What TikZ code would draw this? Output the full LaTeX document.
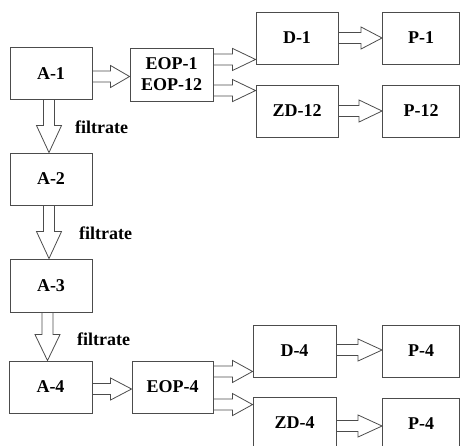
\documentclass[tikz,border=0pt]{standalone}
\usepackage{fontspec}
\setmainfont{Liberation Serif}
\usetikzlibrary{calc}
\tikzset{
  box/.style={draw=black!70, line width=0.9pt, inner sep=0pt, minimum width=82pt, minimum height=52pt,
    font=\fontsize{18}{21}\selectfont\bfseries, align=center},
  lbl/.style={font=\fontsize{18}{21}\selectfont\bfseries, inner sep=0pt, anchor=west},
  blk/.style={draw=black!70, line width=0.8pt, line join=miter}
}
\newcommand\harr[3][20]{\draw[blk] let \p1=(#2), \p2=(#3) in
  (\x1,\y2+5.5pt) -- (\x2-#1pt,\y2+5.5pt) -- (\x2-#1pt,\y2+11pt) -- (\x2,\y2) --
  (\x2-#1pt,\y2-11pt) -- (\x2-#1pt,\y2-5.5pt) -- (\x1,\y2-5.5pt);}
\newcommand\varr[3][27]{\draw[blk] let \p1=(#2), \p2=(#3) in
  (\x2-5.5pt,\y1) -- (\x2-5.5pt,\y2+#1pt) -- (\x2-12.5pt,\y2+#1pt) -- (\x2,\y2) --
  (\x2+12.5pt,\y2+#1pt) -- (\x2+5.5pt,\y2+#1pt) -- (\x2+5.5pt,\y1);}
\begin{document}
\begin{tikzpicture}[x=1pt,y=-1pt]
\useasboundingbox (0,0) rectangle (460,445);
\clip (0,0) rectangle (460,445);
% top row
\node[box] (a1) at (51,73.5) {A-1};
\node[box, minimum width=83pt, minimum height=53pt] (eop1) at (171.5,74.5) {EOP-1\\EOP-12};
\node[box] (d1) at (297,38) {D-1};
\node[box] (zd12) at (297,111) {ZD-12};
\node[box, minimum width=77pt] (p1) at (421,38) {P-1};
\node[box, minimum width=77pt] (p12) at (421,111) {P-12};
% column
\node[box] (a2) at (51,179) {A-2};
\node[box, minimum height=53pt] (a3) at (51,285.5) {A-3};
\node[box, minimum width=83pt] (a4) at (50.5,387) {A-4};
% bottom row
\node[box, minimum width=81pt] (eop4) at (172.5,387) {EOP-4};
\node[box, minimum width=83pt] (d4) at (294.5,351) {D-4};
\node[box, minimum width=83pt] (zd4) at (294.5,423) {ZD-4};
\node[box, minimum width=77pt] (p4) at (421,351) {P-4};
\node[box, minimum width=77pt] (p4b) at (421,424) {P-4};
% labels
\node[lbl] (f1) at (75,127) {filtrate};
\node[lbl] (f2) at (79,233) {filtrate};
\node[lbl] (f3) at (77,339) {filtrate};
% arrows
\harr[19]{a1.east}{[yshift=-2pt]eop1.west}
\harr[23]{eop1.east}{[yshift=5pt]d1.south west}
\harr[23]{eop1.east}{[yshift=-6pt]zd12.north west}
\harr[21]{d1.east}{p1.west}
\harr[23]{zd12.east}{p12.west}
\varr{a1.south}{[xshift=-2pt]a2.north}
\varr{a2.south}{[xshift=-2pt]a3.north}
\varr[26]{a3.south}{[xshift=-3pt]a4.north}
\harr[21]{a4.east}{[yshift=-2pt]eop4.west}
\harr[20]{eop4.east}{[yshift=6pt]d4.south west}
\harr[20]{eop4.east}{[yshift=-8pt]zd4.north west}
\harr[24]{d4.east}{[yshift=1pt]p4.west}
\harr[24]{zd4.east}{[yshift=-2pt]p4b.west}
\end{tikzpicture}
\end{document}
